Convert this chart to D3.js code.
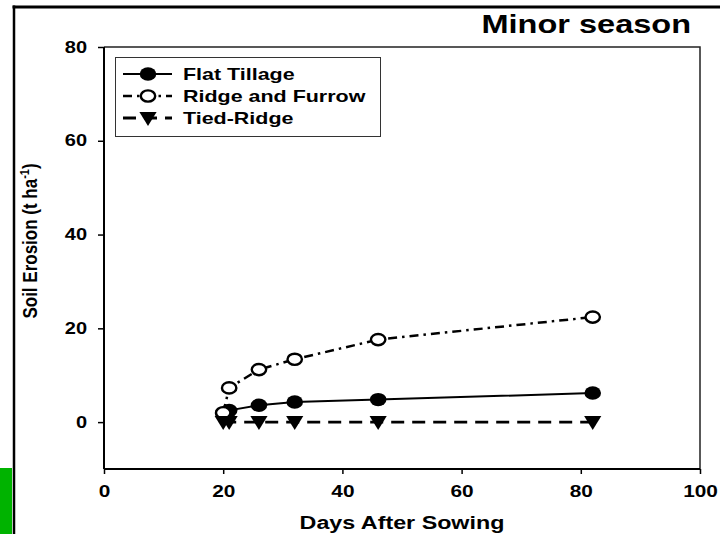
<!DOCTYPE html>
<html><head><meta charset="utf-8">
<script src="https://cdn.jsdelivr.net/npm/d3@7"></script>
<style>
html,body{margin:0;padding:0;background:#fff;}
svg{display:block;}
text{font-family:"Liberation Sans",Arial,sans-serif;font-weight:bold;fill:#000;}
</style></head>
<body>
<script>
const days = [20, 21, 26, 32, 46, 82];
const flatTillage = [1.9, 2.5, 3.6, 4.3, 4.8, 6.2];
const ridgeFurrow = [2.0, 7.3, 11.2, 13.4, 17.6, 22.4];
const tiedRidge = [0, 0, 0, 0, 0, 0];
const seriesNames = ["Flat Tillage", "Ridge and Furrow", "Tied-Ridge"];
const xTicks = [0, 20, 40, 60, 80, 100];
const yTicks = [0, 20, 40, 60, 80];

const W = 720, H = 534;
const svg = d3.select("body").append("svg").attr("width", W).attr("height", H);

function stretch(sel, f){
  sel.each(function(){ const L = this.getComputedTextLength(); d3.select(this).attr("textLength", L*f).attr("lengthAdjust","spacingAndGlyphs"); });
}

// outer decorations
svg.append("rect").attr("x",0).attr("y",468).attr("width",12).attr("height",66).attr("fill","#00b300");
svg.append("line").attr("x1",12.5).attr("x2",720).attr("y1",7).attr("y2",7).attr("stroke","#000").attr("stroke-width",3);
svg.append("line").attr("x1",14).attr("x2",14).attr("y1",5.5).attr("y2",534).attr("stroke","#000").attr("stroke-width",2.5);

const x = d3.scaleLinear().domain([0,100]).range([104,700]);
const y = d3.scaleLinear().domain([-10,80]).range([469,47]);

// frame top/right
svg.append("path").attr("d",`M${x(0)},${y(80)}H${x(100)}V${y(-10)}`).attr("fill","none").attr("stroke","#222").attr("stroke-width",1.5);

// axes
const gx = svg.append("g").attr("transform",`translate(0,${y(-10)})`)
  .call(d3.axisBottom(x).tickValues(xTicks).tickFormat(d3.format("d")).tickSize(5).tickPadding(12));
const gy = svg.append("g").attr("transform",`translate(${x(0)},0)`)
  .call(d3.axisLeft(y).tickValues(yTicks).tickFormat(d3.format("d")).tickSize(6).tickPadding(11));
[gx,gy].forEach(g=>{
  g.select(".domain").attr("stroke","#000").attr("stroke-width",2);
  g.selectAll(".tick line").attr("stroke","#000").attr("stroke-width",1.5);
  g.selectAll("text").style("font-size","16px").style("font-weight","bold").attr("fill","#000").style("font-family",'"Liberation Sans",Arial,sans-serif');
});
gx.select(".domain").attr("d",`M${x(0)},0H${x(100)}`);
gy.select(".domain").attr("d",`M0,${y(-10)}V${y(80)}`);
stretch(gx.selectAll(".tick text"),1.3);
stretch(gy.selectAll(".tick text"),1.25);

// series
const series = [
  {name:seriesNames[0], vals:flatTillage, dash:null, sw:2, marker:"filled"},
  {name:seriesNames[1], vals:ridgeFurrow, dash:"9,5,2.5,5", sw:2.5, marker:"open"},
  {name:seriesNames[2], vals:tiedRidge, dash:"13,8", sw:2.8, marker:"tri"}
];
const line = d3.line().x(d=>x(d[0])).y(d=>y(d[1]));
function drawMarker(g, type){
  if(type==="filled") g.append("ellipse").attr("rx",8.3).attr("ry",6.7).attr("fill","#000");
  else if(type==="open") g.append("ellipse").attr("rx",7.2).attr("ry",5.6).attr("fill","#fff").attr("stroke","#000").attr("stroke-width",2.4);
  else g.append("path").attr("d","M-8.6,-6L8.6,-6L0,8Z").attr("fill","#000");
}
series.forEach(s=>{
  const pts = days.map((d,i)=>[d,s.vals[i]]);
  svg.append("path").attr("d",line(pts)).attr("fill","none").attr("stroke","#000")
    .attr("stroke-width",s.sw).attr("stroke-dasharray",s.dash);
  pts.forEach(p=>{
    const g = svg.append("g").attr("transform",`translate(${x(p[0])},${y(p[1])})`);
    drawMarker(g,s.marker);
  });
});

// legend
const lg = svg.append("g");
lg.append("rect").attr("x",115.5).attr("y",57.5).attr("width",265).attr("height",79).attr("fill","#fff").attr("stroke","#333").attr("stroke-width",1);
const rowY = [74, 96, 118];
series.forEach((s,i)=>{
  const yy = rowY[i];
  lg.append("line").attr("x1",123).attr("x2",172).attr("y1",yy).attr("y2",yy).attr("stroke","#000")
    .attr("stroke-width",s.sw).attr("stroke-dasharray",s.dash);
  const g = lg.append("g").attr("transform",`translate(148,${yy})`);
  drawMarker(g,s.marker);
  const t = lg.append("text").attr("x",183).attr("y",yy+6).style("font-size","16.5px").text(s.name);
  stretch(t,1.3);
});

// title
const tt = svg.append("text").attr("x",691).attr("y",32.5).attr("text-anchor","end").style("font-size","26px").text("Minor season");
stretch(tt,1.25);

// x label
const xl = svg.append("text").attr("x",402).attr("y",529).attr("text-anchor","middle").style("font-size","17.5px").text("Days After Sowing");
stretch(xl,1.33);

// y label
const yl = svg.append("text").attr("transform","translate(37,241) scale(1.2,1) rotate(-90)").attr("text-anchor","middle").style("font-size","17px");
yl.append("tspan").text("Soil Erosion (t ha");
yl.append("tspan").attr("dy",-7).style("font-size","11px").text("-1");
yl.append("tspan").attr("dy",7).text(")");
</script>
</body></html>
